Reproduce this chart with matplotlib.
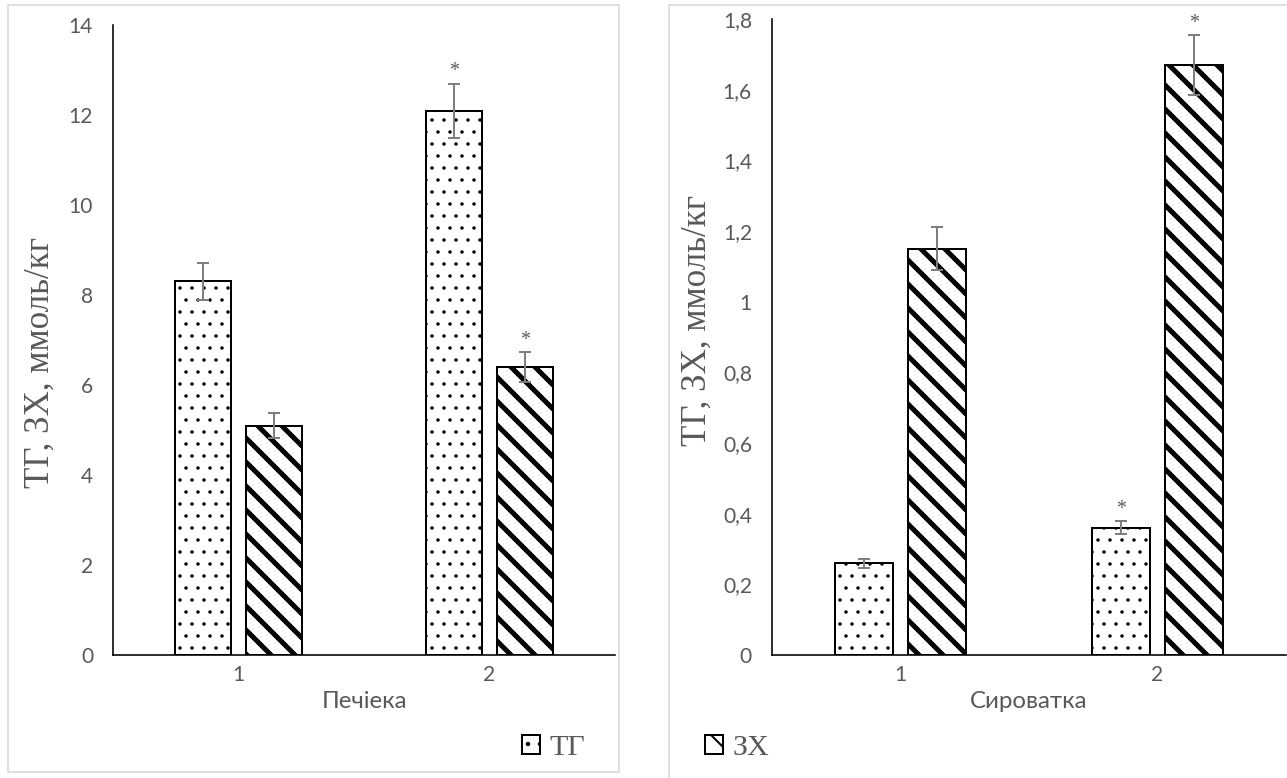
import numpy as np
import matplotlib
matplotlib.use("Agg")
import matplotlib.pyplot as plt
from matplotlib.patches import Rectangle, Patch
from matplotlib.ticker import FuncFormatter

# liver (Печіека) and serum (Сироватка): ТГ and ЗХ, mean and error
groups = ['1', '2']
liver_tg = [8.3, 12.1]
liver_tg_err = [0.42, 0.6]
liver_zx = [5.1, 6.4]
liver_zx_err = [0.28, 0.33]
serum_tg = [0.26, 0.36]
serum_tg_err = [0.013, 0.018]
serum_zx = [1.15, 1.67]
serum_zx_err = [0.06, 0.085]
# which bars carry a significance star
liver_star_tg = [False, True]
liver_star_zx = [False, True]
serum_star_tg = [False, True]
serum_star_zx = [False, True]

DPI = 144
W, H = 1287, 778
plt.rcParams['hatch.color'] = 'black'

DOT_LW = 0.5
STRIPE_LW = 2.5

tick_gray = '#595959'
err_gray = '#7f7f7f'
sans = ['Lato', 'DejaVu Sans']
serif = ['Liberation Serif', 'DejaVu Serif']

fig = plt.figure(figsize=(W / DPI, H / DPI), dpi=DPI)


def px_box(x0, y0, x1, y1):
    # pixel box (top-left origin) -> figure fraction rect
    return [x0 / W, 1 - y1 / H, (x1 - x0) / W, (y1 - y0) / H]


def hatched_bar(ax, x, h, w, hatch, lw):
    with plt.rc_context({'hatch.linewidth': lw}):
        bars = ax.bar(x, h, w, color='white', edgecolor='black', linewidth=1.0, hatch=hatch)
    for b in bars:
        if hasattr(b, 'set_hatch_linewidth'):
            b.set_hatch_linewidth(lw)
    return bars


def hatched_patch(hatch, lw):
    with plt.rc_context({'hatch.linewidth': lw}):
        p = Patch(facecolor='white', edgecolor='black', hatch=hatch, linewidth=1.0)
    if hasattr(p, 'set_hatch_linewidth'):
        p.set_hatch_linewidth(lw)
    return p


def draw_panel(ax, tg, tg_err, zx, zx_err, star_tg, star_zx, ymax, step, xlabel, comma):
    x = np.arange(len(groups))
    off = 0.142
    w = 0.222
    hatched_bar(ax, x - off, tg, w, '..', DOT_LW)
    hatched_bar(ax, x + off, zx, w, '\\\\', STRIPE_LW)
    ax.errorbar(x - off, tg, yerr=tg_err, fmt='none', ecolor=err_gray, elinewidth=1.0,
                capsize=3.2, capthick=1.0)
    ax.errorbar(x + off, zx, yerr=zx_err, fmt='none', ecolor=err_gray, elinewidth=1.0,
                capsize=3.2, capthick=1.0)
    for xi, v, e, s in zip(x - off, tg, tg_err, star_tg):
        if s:
            ax.annotate('*', (xi, v + e), xytext=(0, 1), textcoords='offset points',
                        ha='center', va='bottom', fontsize=10, color=tick_gray, family=serif)
    for xi, v, e, s in zip(x + off, zx, zx_err, star_zx):
        if s:
            ax.annotate('*', (xi, v + e), xytext=(0, 1), textcoords='offset points',
                        ha='center', va='bottom', fontsize=10, color=tick_gray, family=serif)

    ax.set_xlim(-0.5, len(groups) - 0.5)
    ax.set_ylim(0, ymax)
    ax.set_yticks(np.arange(0, ymax + step / 2, step))
    if comma:
        ax.yaxis.set_major_formatter(FuncFormatter(lambda v, p: f'{v:g}'.replace('.', ',')))
    ax.set_xticks(x)
    ax.set_xticklabels(groups)
    for s in ['top', 'right']:
        ax.spines[s].set_visible(False)
    for s in ['left', 'bottom']:
        ax.spines[s].set_linewidth(0.8)
        ax.spines[s].set_color('black')
    ax.tick_params(axis='both', length=0, labelsize=10.5, labelcolor=tick_gray)
    ax.tick_params(axis='y', pad=10)
    ax.tick_params(axis='x', pad=5)
    for lab in ax.get_xticklabels() + ax.get_yticklabels():
        lab.set_family(sans)
    ax.set_xlabel(xlabel, fontsize=12, color=tick_gray, family=sans, labelpad=3)


# panel frames
fig.add_artist(Rectangle((8 / W, 1 - 772 / H), 611 / W, 767 / H, transform=fig.transFigure,
                         fill=False, edgecolor='#d9d9d9', linewidth=0.8))
fig.add_artist(Rectangle((669 / W, 1 - 790 / H), 640 / W, 785 / H, transform=fig.transFigure,
                         fill=False, edgecolor='#d9d9d9', linewidth=0.8))

ax1 = fig.add_axes(px_box(113, 25, 615, 655))
draw_panel(ax1, liver_tg, liver_tg_err, liver_zx, liver_zx_err,
           liver_star_tg, liver_star_zx, 14, 2, 'Печіека', False)

ax2 = fig.add_axes(px_box(772, 19, 1286, 655))
draw_panel(ax2, serum_tg, serum_tg_err, serum_zx, serum_zx_err,
           serum_star_tg, serum_star_zx, 1.8, 0.2, 'Сироватка', True)

ylabel = 'ТГ, ЗХ, ммоль/кг'
fig.text(40 / W, 1 - 362 / H, ylabel, rotation=90, ha='center', va='center',
         fontsize=17.5, color=tick_gray, family=serif)
fig.text(697 / W, 1 - 320 / H, ylabel, rotation=90, ha='center', va='center',
         fontsize=17.5, color=tick_gray, family=serif)

# legends, one per panel
h_tg = hatched_patch('..', DOT_LW)
h_zx = hatched_patch('\\\\', STRIPE_LW)
leg_kw = dict(frameon=False, handlelength=0.6, handleheight=0.6, handletextpad=0.3,
              borderpad=0, borderaxespad=0)
leg1 = fig.legend([h_tg], ['ТГ'], loc='center left', bbox_to_anchor=(522 / W, 1 - 748 / H),
                  prop={'family': serif, 'size': 15}, **leg_kw)
leg2 = fig.legend([h_zx], ['ЗХ'], loc='center left', bbox_to_anchor=(705 / W, 1 - 748 / H),
                  prop={'family': serif, 'size': 15}, **leg_kw)
for leg in (leg1, leg2):
    for t in leg.get_texts():
        t.set_color(tick_gray)

fig.savefig('out.png', dpi=DPI)
